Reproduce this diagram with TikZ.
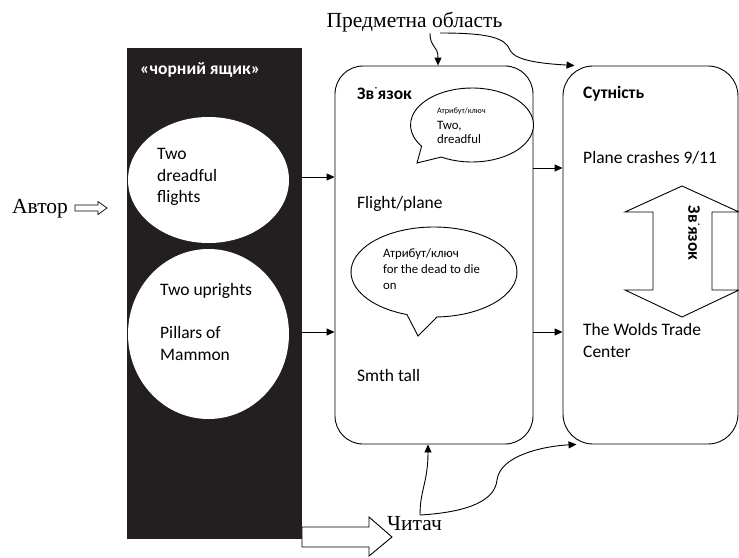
\documentclass[tikz,border=0pt]{standalone}
\usepackage{fontspec}
\setmainfont{Liberation Serif}
\newfontfamily\carl{Carlito}
\usetikzlibrary{arrows.meta,shapes.geometric}
\definecolor{boxblack}{RGB}{35,31,32}
\begin{document}
\begin{tikzpicture}[x=1pt,y=-1pt,
  txt/.style={font=\carl\fontsize{17.5}{21}\selectfont, anchor=base west, inner sep=0pt},
  btxt/.style={txt, font=\carl\bfseries\fontsize{17.5}{21}\selectfont},
  smalltxt/.style={font=\carl\fontsize{12.8}{15}\selectfont, anchor=base west, inner sep=0pt},
  tinytxt/.style={font=\carl\fontsize{8.2}{10}\selectfont, anchor=base west, inner sep=0pt},
  serif/.style={font=\fontsize{21.5}{25}\selectfont, inner sep=0pt},
  conn/.style={line width=0.9pt, -{Triangle[length=8pt,width=7pt]}},
  rbox/.style={draw, line width=0.9pt, rounded corners=28pt, inner sep=0pt, fill=white},
  blob/.style={ellipse, fill=white, inner sep=0pt},
  outline/.style={draw, line width=0.9pt, fill=white, line join=miter}
]
\useasboundingbox (0,0) rectangle (739,557);

% reader block arrow (behind black box)
\draw[outline] (302,527) -- (369,527) -- (369,517) -- (392,537) -- (369,556) -- (369,547) -- (302,547) -- cycle;

% black box
\node[fill=boxblack, minimum width=175pt, minimum height=491pt, inner sep=0pt] (bb) at (214.5,293.5) {};
\node[blob, minimum width=161pt, minimum height=126pt] (e1) at (208.5,180) {};
\node[blob, minimum width=161pt, minimum height=170pt] (e2) at (208.5,334) {};
\node[btxt, text=white] (bbt) at (140,74) {«чорний ящик»};
\node[txt] (t1a) at (157,159) {Two};
\node[txt] (t1b) at (157,181) {dreadful};
\node[txt] (t1c) at (157,202) {flights};
\node[txt] (t2a) at (160,295) {Two uprights};
\node[txt] (t2b) at (160,338) {Pillars of};
\node[txt] (t2c) at (160,360) {Mammon};

% boxes
\node[rbox, minimum width=198pt, minimum height=378pt] (mid) at (434,255) {};
\node[rbox, rounded corners=30pt, minimum width=175pt, minimum height=378pt] (ent) at (650.5,255) {};

% speech bubbles
\draw[line width=0.9pt, fill=white] (472,125) ++(120:61.5 and 37)
  arc[start angle=120, end angle=-215, x radius=61.5, y radius=37] -- (417,163) -- cycle;
\draw[line width=0.9pt, fill=white] (434,272) ++(88:83 and 45)
  arc[start angle=88, end angle=-251, x radius=83, y radius=45] -- (418,336) -- cycle;

% middle texts
\node[btxt] (zv) at (357,99) {Зв\kern0.5pt\raisebox{0.5ex}{\fontsize{10}{10}\selectfont ˙}\kern0.5pt язок};
\node[tinytxt] (b1a) at (437,113) {Атрибут/ключ};
\node[smalltxt] (b1b) at (437,129) {Two,};
\node[smalltxt] (b1c) at (437,143) {dreadful};
\node[txt] (fp) at (357,208) {Flight/plane};
\node[smalltxt] (b2a) at (383,257) {Атрибут/ключ};
\node[smalltxt] (b2b) at (383,273) {for the dead to die};
\node[smalltxt] (b2c) at (383,289) {on};
\node[txt] (st) at (357,381) {Smth tall};

% right texts
\node[btxt] (sut) at (583,98) {Сутність};
\node[txt] (pc) at (583,163) {Plane crashes 9/11};
\node[txt] (wt1) at (583,335) {The Wolds Trade};
\node[txt] (wt2) at (583,357) {Center};

% double block arrow
\draw[outline] (682,186) -- (739,212) -- (712,212) -- (712,290) -- (739,290) -- (682,317)
  -- (625,290) -- (653,290) -- (653,212) -- (625,212) -- cycle;
\node[font=\carl\bfseries\fontsize{17.5}{21}\selectfont, rotate=-90, inner sep=0pt] (zv2) at (694,233)
  {Зв\kern0.5pt\raisebox{0.5ex}{\fontsize{10}{10}\selectfont ˙}\kern0.5pt язок};

% straight connectors
\coordinate (ya) at (0,177);
\coordinate (yb) at (0,332);
\coordinate (yc) at (0,168);
\draw[conn] (bb.east |- ya) -- (mid.west |- ya);
\draw[conn] (bb.east |- yb) -- (mid.west |- yb);
\draw[conn] (mid.east |- yc) -- (ent.west |- yc);
\draw[conn] (mid.east |- yb) -- (ent.west |- yb);

% serif labels
\node[serif, anchor=base] (pred) at (414.5,27) {Предметна область};
\node[serif, anchor=base west] (avt) at (12,213) {Автор};
\node[serif, anchor=base west] (chit) at (387,530) {Читач};

% author arrow
\draw[line width=0.7pt, fill=white] (75,205) -- (98,205) -- (98,201.5) -- (107,208) -- (98,214.5) -- (98,211) -- (75,211) -- cycle;

% curved connectors
\coordinate (pa) at (430,33);
\coordinate (pb) at (440,33);
\coordinate (ca) at (420,515);
\draw[conn] (pa) .. controls (430,48) and (438,45) .. ([xshift=4pt]mid.north);
\draw[conn] (pb) .. controls (490,33) and (505,38) .. (510,50) .. controls (515,62) and (550,64) .. ([xshift=12pt]ent.north west);
\draw[conn] (ca) .. controls (420,490) and (428,482) .. ([xshift=-6pt]mid.south);
\draw[conn] (ca) .. controls (470,512) and (495,500) .. (497,480) .. controls (500,455) and (545,446) .. ([xshift=14pt]ent.south west);
\end{tikzpicture}
\end{document}
